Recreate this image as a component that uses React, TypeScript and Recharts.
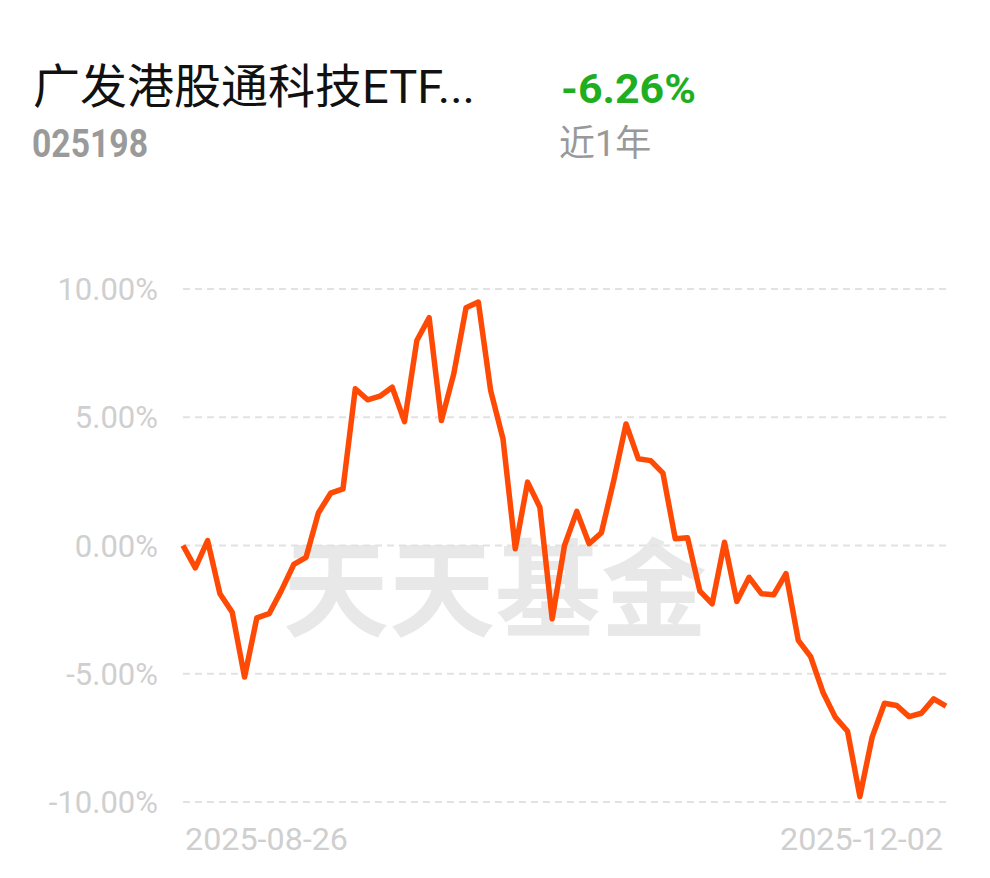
import React from "react";
import { LineChart, Line, XAxis, YAxis, CartesianGrid } from "recharts";

const dates: string[] = [
  "2025-08-26", "2025-08-27", "2025-08-28", "2025-08-29",
  "2025-09-01", "2025-09-02", "2025-09-03", "2025-09-04", "2025-09-05",
  "2025-09-08", "2025-09-09", "2025-09-10", "2025-09-11", "2025-09-12",
  "2025-09-15", "2025-09-16", "2025-09-17", "2025-09-18", "2025-09-19",
  "2025-09-22", "2025-09-23", "2025-09-24", "2025-09-25", "2025-09-26",
  "2025-09-29",
  "2025-10-10",
  "2025-10-13", "2025-10-14", "2025-10-15", "2025-10-16", "2025-10-17",
  "2025-10-20", "2025-10-21", "2025-10-22", "2025-10-23", "2025-10-24",
  "2025-10-27", "2025-10-28", "2025-10-29", "2025-10-30", "2025-10-31",
  "2025-11-03", "2025-11-04", "2025-11-05", "2025-11-06", "2025-11-07",
  "2025-11-10", "2025-11-11", "2025-11-12", "2025-11-13", "2025-11-14",
  "2025-11-17", "2025-11-18", "2025-11-19", "2025-11-20", "2025-11-21",
  "2025-11-24", "2025-11-25", "2025-11-26", "2025-11-27", "2025-11-28",
  "2025-12-01", "2025-12-02",
];

const returns: number[] = [
  0.0, -0.87, 0.19, -1.88, -2.6, -5.13, -2.82, -2.66, -1.75, -0.74,
  -0.46, 1.27, 2.04, 2.21, 6.11, 5.68, 5.82, 6.17, 4.83, 7.99,
  8.88, 4.87, 6.69, 9.27, 9.49, 6.04, 4.16, -0.13, 2.47, 1.49,
  -2.86, 0.0, 1.33, 0.07, 0.5, 2.53, 4.74, 3.38, 3.31, 2.82,
  0.26, 0.3, -1.78, -2.27, 0.13, -2.18, -1.24, -1.88, -1.92, -1.1,
  -3.7, -4.33, -5.72, -6.69, -7.24, -9.79, -7.47, -6.15, -6.24, -6.67,
  -6.54, -5.98, -6.26,
];

const yTicks: number[] = [-10, -5, 0, 5, 10];

const fundName = "广发港股通科技ETF...";
const fundCode = "025198";
const periodReturn = "-6.26%";
const periodLabel = "近1年";
const watermark = "天天基金";

const data = dates.map((d, i) => ({ date: d, value: returns[i] }));

const DateTick = (props: any) => {
  const { x, y, payload } = props;
  const isFirst = payload.value === dates[0];
  return (
    <text
      x={isFirst ? x + 2 : x - 3}
      y={y + 48}
      textAnchor={isFirst ? "start" : "end"}
      fill="#cfcfcf"
      fontSize={32}
      fontFamily="Roboto"
      textLength={163}
      lengthAdjust="spacingAndGlyphs"
    >
      {payload.value}
    </text>
  );
};

export default function App() {
  return (
    <div
      style={{
        position: "absolute",
        left: 0,
        top: 0,
        width: 990,
        height: 878,
        background: "#ffffff",
        overflow: "hidden",
      }}
    >
      <svg
        width={990}
        height={878}
        style={{ position: "absolute", left: 0, top: 0 }}
      >
        <text
          x={33}
          y={103}
          fontSize={47}
          fill="#111111"
          fontFamily="Roboto, 'Noto Sans CJK SC'"
        >
          {fundName}
        </text>
        <text
          x={32}
          y={157}
          fontSize={38}
          fontWeight={700}
          fill="#9a9a9a"
          fontFamily="Roboto"
          textLength={116}
          lengthAdjust="spacingAndGlyphs"
        >
          {fundCode}
        </text>
        <text
          x={561}
          y={103}
          fontSize={41}
          fontWeight={700}
          fill="#1fae1f"
          fontFamily="Roboto"
          textLength={135}
          lengthAdjust="spacingAndGlyphs"
        >
          {periodReturn}
        </text>
        <text
          x={559}
          y={156}
          fontSize={36}
          fill="#999999"
          fontFamily="Roboto, 'Noto Sans CJK SC'"
        >
          {periodLabel}
        </text>
        <text
          x={495}
          y={628}
          textAnchor="middle"
          fontSize={106}
          fontWeight={700}
          fill="#e8e8e8"
          fontFamily="'Noto Sans CJK SC'"
        >
          {watermark}
        </text>
      </svg>
      <div style={{ position: "absolute", left: 0, top: 0 }}>
        <LineChart
          width={990}
          height={878}
          data={data}
          margin={{ top: 289, right: 44, left: 0, bottom: 0 }}
        >
          <CartesianGrid
            vertical={false}
            stroke="#e2e2e2"
            strokeWidth={2}
            strokeDasharray="7 5"
          />
          <XAxis
            dataKey="date"
            ticks={[dates[0], dates[dates.length - 1]]}
            interval={0}
            axisLine={false}
            tickLine={false}
            tickSize={0}
            tickMargin={0}
            height={76}
            tick={<DateTick />}
          />
          <YAxis
            domain={[-10, 10]}
            ticks={yTicks}
            width={183}
            axisLine={false}
            tickLine={false}
            tickSize={0}
            tickMargin={25}
            tickFormatter={(v: number) => v.toFixed(2) + "%"}
            tick={{ fill: "#cfcfcf", fontSize: 31, fontFamily: "Roboto" }}
          />
          <Line
            type="linear"
            dataKey="value"
            stroke="#ff4a06"
            strokeWidth={5.5}
            strokeLinejoin="round"
            dot={false}
            activeDot={false}
            isAnimationActive={false}
          />
        </LineChart>
      </div>
    </div>
  );
}
